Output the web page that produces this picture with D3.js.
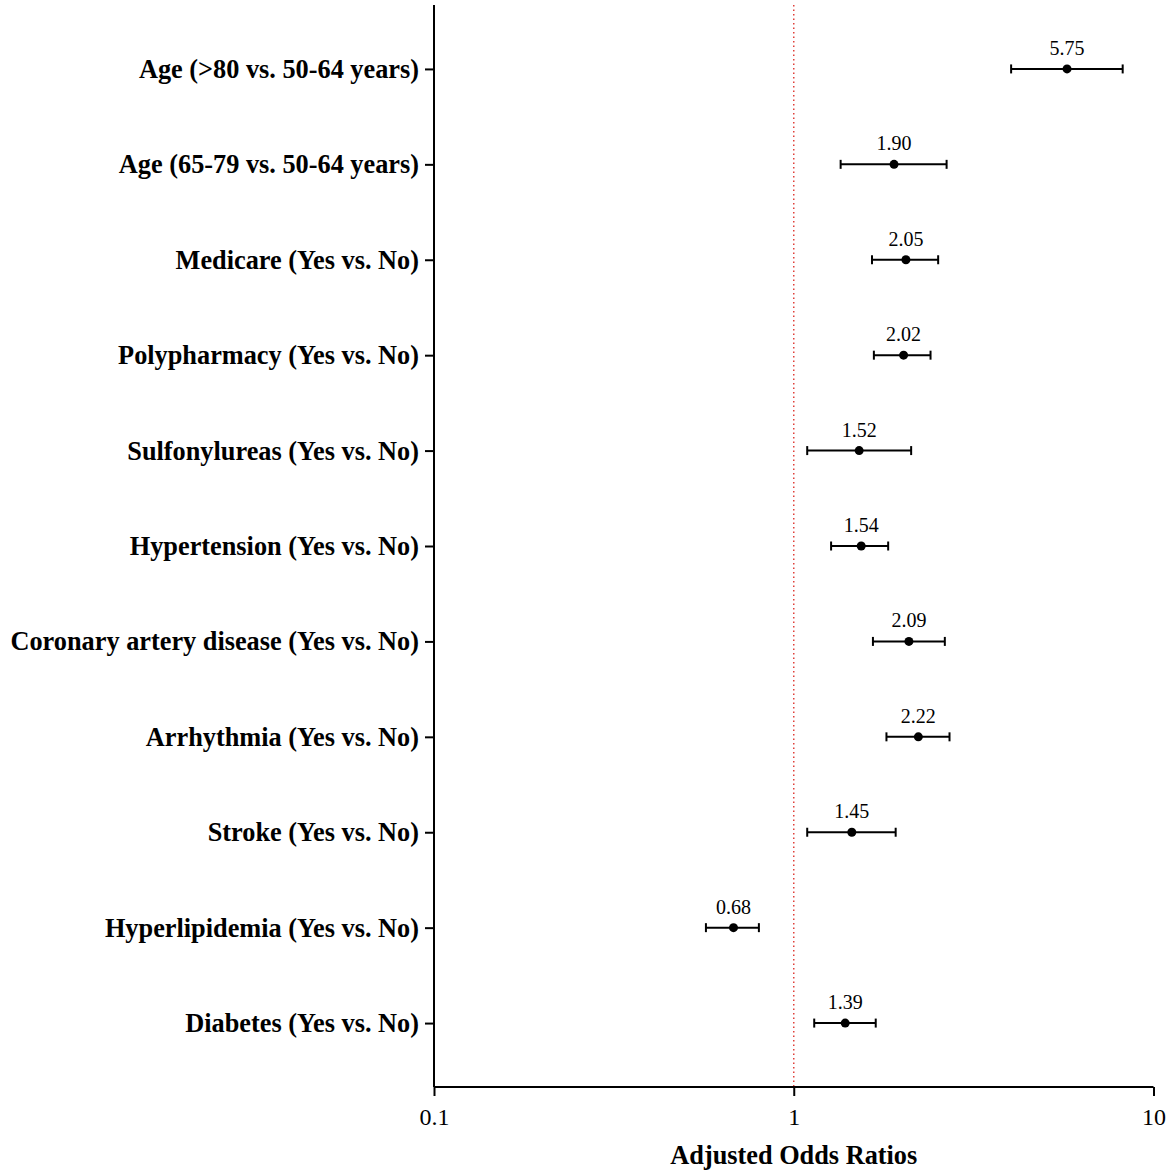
<!DOCTYPE html>
<html>
<head>
<meta charset="utf-8">
<script src="https://cdn.jsdelivr.net/npm/d3@7"></script>
<style>
  html, body { margin: 0; padding: 0; background: #fff; }
  svg { display: block; }
</style>
</head>
<body>
<svg id="chart" width="1174" height="1173"></svg>
<script>
// Adjusted odds ratios with 95% confidence intervals
const categories = [
  "Age (>80 vs. 50-64 years)",
  "Age (65-79 vs. 50-64 years)",
  "Medicare (Yes vs. No)",
  "Polypharmacy (Yes vs. No)",
  "Sulfonylureas (Yes vs. No)",
  "Hypertension (Yes vs. No)",
  "Coronary artery disease (Yes vs. No)",
  "Arrhythmia (Yes vs. No)",
  "Stroke (Yes vs. No)",
  "Hyperlipidemia (Yes vs. No)",
  "Diabetes (Yes vs. No)"
];
const oddsRatios = [5.75, 1.90, 2.05, 2.02, 1.52, 1.54, 2.09, 2.22, 1.45, 0.68, 1.39];
const lowerCI    = [4.02, 1.35, 1.65, 1.67, 1.09, 1.27, 1.66, 1.81, 1.09, 0.57, 1.14];
const upperCI    = [8.21, 2.66, 2.52, 2.40, 2.12, 1.83, 2.63, 2.71, 1.92, 0.80, 1.69];
const xTicks = [0.1, 1, 10];
const xTickLabels = ["0.1", "1", "10"];

const rows = categories.map((c, i) => ({
  name: c, or: oddsRatios[i], lo: lowerCI[i], hi: upperCI[i]
}));

const svg = d3.select("#chart");
const serif = "'Liberation Serif', 'Times New Roman', serif";

const plotLeft = 434, plotRight = 1153.5, plotTop = 5, plotBottom = 1087;

const x = d3.scaleLog().domain([0.1, 10]).range([plotLeft, plotRight]);
const y = d3.scalePoint().domain(categories).range([plotTop, plotBottom]).padding(0.67);

// Reference line at OR = 1
svg.append("line")
  .attr("x1", x(1)).attr("x2", x(1))
  .attr("y1", plotTop).attr("y2", plotBottom)
  .attr("stroke", "#e0403a")
  .attr("stroke-width", 1.5)
  .attr("stroke-dasharray", "1.5,3");

// Y axis
const yAxis = svg.append("g")
  .attr("transform", `translate(${plotLeft},0)`)
  .call(d3.axisLeft(y).tickSize(9).tickPadding(6));
yAxis.select(".domain")
  .attr("d", `M0,${plotTop}V${plotBottom}`)
  .attr("stroke", "#000").attr("stroke-width", 2);
yAxis.selectAll(".tick line").attr("stroke", "#000").attr("stroke-width", 2);
yAxis.selectAll(".tick text")
  .attr("fill", "#000")
  .style("font-family", serif)
  .style("font-weight", "bold")
  .style("font-size", "26.3px");

// X axis
const xAxis = svg.append("g")
  .attr("transform", `translate(0,${plotBottom})`)
  .call(d3.axisBottom(x).tickValues(xTicks)
    .tickFormat((d, i) => xTickLabels[i]).tickSize(9).tickPadding(12));
xAxis.select(".domain")
  .attr("d", `M${plotLeft},0H${plotRight}`)
  .attr("stroke", "#000").attr("stroke-width", 2);
xAxis.selectAll(".tick line").attr("stroke", "#000").attr("stroke-width", 2);
xAxis.selectAll(".tick text")
  .attr("fill", "#000")
  .style("font-family", serif)
  .style("font-size", "24px");

// X axis title
svg.append("text")
  .attr("x", x(1)).attr("y", 1164)
  .attr("text-anchor", "middle")
  .style("font-family", serif)
  .style("font-weight", "bold")
  .style("font-size", "26.3px")
  .text("Adjusted Odds Ratios");

// Confidence intervals, caps and point estimates
const g = svg.append("g");
const cap = 4.5;
const item = g.selectAll("g.row").data(rows).join("g").attr("class", "row");

item.append("line")
  .attr("x1", d => x(d.lo)).attr("x2", d => x(d.hi))
  .attr("y1", d => y(d.name)).attr("y2", d => y(d.name))
  .attr("stroke", "#000").attr("stroke-width", 2);
item.append("line")
  .attr("x1", d => x(d.lo)).attr("x2", d => x(d.lo))
  .attr("y1", d => y(d.name) - cap).attr("y2", d => y(d.name) + cap)
  .attr("stroke", "#000").attr("stroke-width", 2);
item.append("line")
  .attr("x1", d => x(d.hi)).attr("x2", d => x(d.hi))
  .attr("y1", d => y(d.name) - cap).attr("y2", d => y(d.name) + cap)
  .attr("stroke", "#000").attr("stroke-width", 2);
item.append("circle")
  .attr("cx", d => x(d.or)).attr("cy", d => y(d.name))
  .attr("r", 4.5).attr("fill", "#000");
item.append("text")
  .attr("x", d => x(d.or)).attr("y", d => y(d.name) - 14)
  .attr("text-anchor", "middle")
  .style("font-family", serif)
  .style("font-size", "20px")
  .text(d => d.or.toFixed(2));
</script>
</body>
</html>
